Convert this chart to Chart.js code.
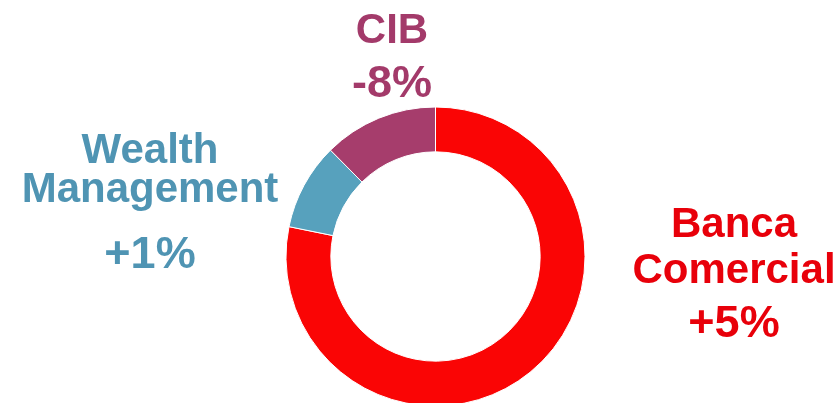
<!DOCTYPE html>
<html>
<head>
<meta charset="utf-8">
<style>
	html, body { margin: 0; padding: 0; background: #fff; overflow: hidden; }
	#wrap { position: absolute; left: 0; top: 0; width: 838px; height: 420px; }
</style>
</head>
<body>
<div id="wrap">
	<canvas id="mixChart" width="838" height="420"></canvas>
</div>

<script src="https://cdn.jsdelivr.net/npm/chart.js@4/dist/chart.umd.min.js"></script>

<script>
	// segments run clockwise from 12 o'clock
	var categories = ["Banca Comercial", "Wealth Management", "CIB"]
	var categoryLines = [["Banca", "Comercial"], ["Wealth", "Management"], ["CIB"]]
	var shares = [78.2, 9.4, 12.4]
	var changes = ["+5%", "+1%", "-8%"]

	var sliceColours = ["#FA0505", "#57A1BD", "#A63D6C"]
	var textColours = ["#E8000A", "#4F94B3", "#A33A6A"]

	// where each label sits: centre x, baselines of name lines, baseline of change
	var labelSpots = [
		{ x: 734, lines: [237, 283], pct: 337 },
		{ x: 150, lines: [163, 202], pct: 268 },
		{ x: 392, lines: [43], pct: 97 }
	]

	const labelPlugin = {
		id: "sideLabels",
		afterDraw(chart) {
			const ctx = chart.ctx
			ctx.save()
			ctx.textAlign = "center"
			ctx.textBaseline = "alphabetic"
			categoryLines.forEach((lines, i) => {
				const spot = labelSpots[i]
				ctx.fillStyle = textColours[i]
				ctx.font = "bold 42px 'Liberation Sans', Arial, sans-serif"
				lines.forEach((t, j) => ctx.fillText(t, spot.x, spot.lines[j]))
				ctx.font = "bold 45px 'Liberation Sans', Arial, sans-serif"
				ctx.fillText(changes[i], spot.x, spot.pct)
			})
			ctx.restore()
		}
	}

	const ctx = document.getElementById("mixChart")
	const mixChart = new Chart(ctx, {
		type: "doughnut",
		data: {
			labels: categories,
			datasets: [{
				data: shares,
				backgroundColor: sliceColours,
				borderColor: "#ffffff",
				borderWidth: 1
			}]
		},
		options: {
			responsive: false,
			animation: false,
			cutout: "70%",
			layout: {
				// puts the ring centre near (435.5, 256.5), partly cut at the bottom
				padding: { left: 285.5, right: 252.5, top: 106.5, bottom: 13.5 }
			},
			plugins: {
				legend: { display: false },
				tooltip: { enabled: false }
			}
		},
		plugins: [labelPlugin]
	})
</script>
</body>
</html>
